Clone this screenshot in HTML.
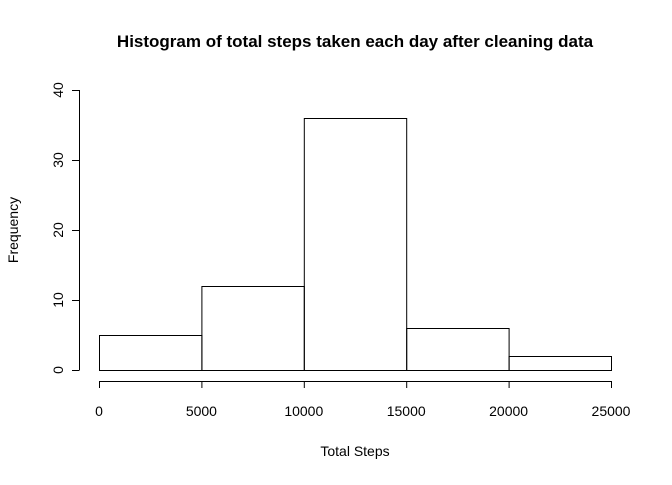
<!DOCTYPE html>
<html><head><meta charset="utf-8"><style>
body{margin:0;background:#fff}
svg text{font-family:"Liberation Sans",Arial,sans-serif;fill:#000}
</style></head><body>
<svg id="c" width="672" height="480" xmlns="http://www.w3.org/2000/svg">
<text x="355" y="47" text-anchor="middle" font-size="17" font-weight="bold">Histogram of total steps taken each day after cleaning data</text>
<text x="355" y="456" text-anchor="middle" font-size="14">Total Steps</text>
<text x="18" y="230" text-anchor="middle" font-size="14" transform="rotate(-90 18 230)">Frequency</text>
<g id="bars"></g><g id="xa"></g><g id="ya"></g>
</svg>
<script>
const binEdges=[0,5000,10000,15000,20000,25000];
const counts=[5,12,36,6,2];
const xTicks=[0,5000,10000,15000,20000,25000];
const yTicks=[0,10,20,30,40];
const NS="http://www.w3.org/2000/svg";
function sx(v){return 99+v*(512/25000);}
function sy(v){return 370-v*7;}
function mk(t,a,p){const e=document.createElementNS(NS,t);for(const k in a)e.setAttribute(k,a[k]);p.appendChild(e);return e;}
const bars=document.getElementById('bars');
counts.forEach((c,i)=>{
 const r=mk('rect',{x:sx(binEdges[i])+0.5,y:sy(c)+0.5,width:sx(binEdges[i+1])-sx(binEdges[i]),height:sy(0)-sy(c),fill:'none',stroke:'#000','stroke-width':1},bars);
 
 
});
const xa=document.getElementById('xa');
mk('line',{x1:sx(xTicks[0]),x2:sx(xTicks[xTicks.length-1]),y1:381.5,y2:381.5,stroke:'#000'},xa);
xTicks.forEach(t=>{
 mk('line',{x1:sx(t)+0.5,x2:sx(t)+0.5,y1:381,y2:388,stroke:'#000'},xa);
 const l=mk('text',{x:sx(t),y:416,'text-anchor':'middle','font-size':14},xa);l.textContent=t;
 
 
});
const ya=document.getElementById('ya');
mk('line',{x1:79.5,x2:79.5,y1:sy(yTicks[0]),y2:sy(yTicks[yTicks.length-1]),stroke:'#000'},ya);
yTicks.forEach(t=>{
 mk('line',{x1:72,x2:79.5,y1:sy(t)+0.5,y2:sy(t)+0.5,stroke:'#000'},ya);
 const l=mk('text',{x:63,y:sy(t),'text-anchor':'middle','font-size':14,transform:`rotate(-90 63 ${sy(t)})`},ya);l.textContent=t;
 
 
});
</script>
</body></html>
